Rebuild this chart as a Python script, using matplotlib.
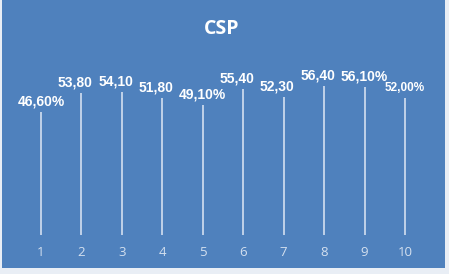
import matplotlib
matplotlib.use("Agg")
import matplotlib.pyplot as plt
from matplotlib.patches import Rectangle

categories = [1, 2, 3, 4, 5, 6, 7, 8, 9, 10]
values = [46.6, 53.8, 54.1, 51.8, 49.1, 55.4, 52.3, 56.4, 56.1, 52.0]
labels = ["46,60%", "53,80", "54,10", "51,80", "49,10%", "55,40", "52,30", "56,40", "56,10%", "52,00%"]
title = "CSP"

BLUE = "#4f81bd"
W, H = 449, 274
fig = plt.figure(figsize=(W / 100, H / 100), dpi=100)
fig.patch.set_facecolor("#e9eef5")
fig.add_artist(Rectangle((2 / W, 6 / H), 443 / W, 268 / H, transform=fig.transFigure,
                         facecolor=BLUE, edgecolor="none", zorder=0))

ax = fig.add_axes([20.8 / W, (H - 235) / H, 404.4 / W, 0.7717])
ax.set_facecolor("none")
ax.vlines(categories, 0, values, color="#dfe8f4", linewidth=1.1)
ax.set_xlim(0.5, 10.5)
ax.set_ylim(0, 80)
for s in ax.spines.values():
    s.set_visible(False)
ax.set_yticks([])
ax.set_xticks(categories)
ax.set_xticklabels([str(c) for c in categories], color="#d4e0ef", fontsize=9.5,
                   family="Open Sans")
ax.tick_params(axis="x", length=0, pad=8)

for i, (x, v, lab) in enumerate(zip(categories, values, labels)):
    if lab.endswith("%"):
        ha, dx = "center", 0
    else:
        ha, dx = "right", 8
    fs = 8.5 if i == len(values) - 1 else 10
    ax.annotate(lab, (x, v), xytext=(dx, 4.7), textcoords="offset points",
                ha=ha, va="baseline", color="white", fontsize=fs,
                fontweight="bold", family="Liberation Sans")

fig.text(222 / W, 1 - 29 / H, title, ha="center", va="center", color="white",
         fontsize=14, fontweight="bold", family="Open Sans")

fig.savefig("out.png", dpi=100, facecolor=fig.get_facecolor())
